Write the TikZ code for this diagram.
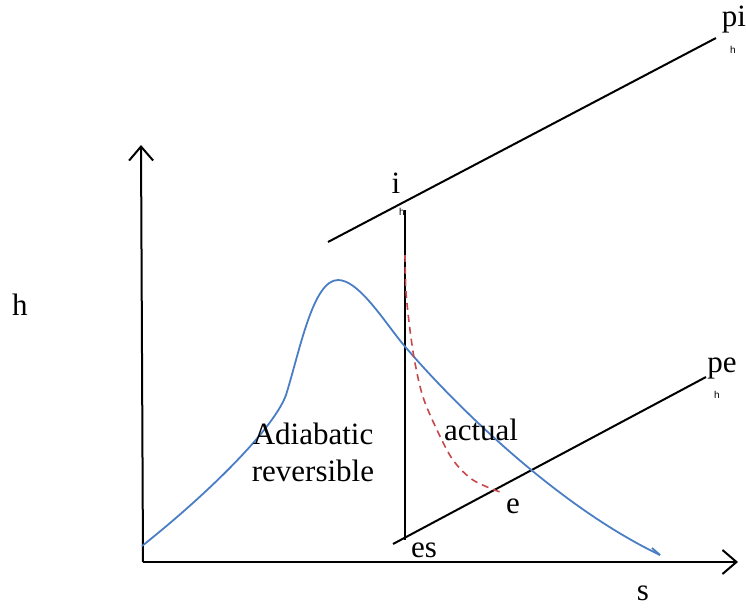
\documentclass[tikz,border=0pt]{standalone}
\usepackage{fontspec}
\setmainfont{Liberation Serif}
\newfontfamily\subfont{Liberation Sans}
\usetikzlibrary{arrows.meta,positioning,calc}

\tikzset{
  axis/.style={line width=2pt,-{Straight Barb[length=14pt,width=24pt,line width=2pt]}},
  isobar/.style={line width=2pt},
  lbl/.style={font=\fontsize{31}{37}\selectfont,inner sep=0pt},
  sublbl/.style={font=\subfont\fontsize{10}{12}\selectfont,inner sep=0pt}
}
\definecolor{curveblue}{HTML}{4A7EC4}
\definecolor{actualred}{HTML}{C8474A}

\begin{document}
\begin{tikzpicture}[x=1pt,y=-1pt]
    \useasboundingbox (0,0) rectangle (746,610);

    % axes
    \coordinate (origin) at (143,562);
    \coordinate (ytip) at (141,145);
    \coordinate (xtip) at (738,562);
    \draw[axis] (origin) -- (ytip);
    \draw[axis] (origin) -- (xtip);
    \node[lbl] (hlabel) at (20,305) {h};
    \node[lbl] (slabel) at (643,593) {s};

    % pressure lines
    \coordinate (pistart) at (328,242);
    \coordinate (piend) at (716,38);
    \draw[isobar] (pistart) -- (piend);
    \node[lbl] (pilabel) at (734,20) {pi};
    \node[sublbl] (pisub) at (733,50) {h};

    \coordinate (pestart) at (393,544);
    \coordinate (peend) at (706,377);
    \draw[isobar] (pestart) -- (peend);
    \node[lbl] (pelabel) at (722,368) {pe};
    \node[sublbl] (pesub) at (717,395) {h};

    % isentropic expansion
    \coordinate (istate) at (405,210);
    \coordinate (esstate) at (405,540);
    \draw[isobar] (istate) -- (esstate);
    \node[lbl] (ilabel) at (396,183) {i};
    \node[sublbl] (isub) at (402,212) {h};
    \node[lbl] (eslabel) at (424,550) {es};
    \node[lbl] (elabel) at (513,506) {e};

    % saturation dome
    \coordinate (domestart) at (142,546);
    \coordinate (domepeak) at (338,280);
    \coordinate (domeend) at (660,555);
    \draw[line width=1.8pt,curveblue] (domestart)
      .. controls (210,492) and (274,428) .. (286,395)
      .. controls (300,350) and (313,280) .. (domepeak)
      .. controls (358,280) and (382,318) .. (402,343)
      .. controls (450,400) and (555,505) .. (domeend);
    \draw[line width=1.8pt,curveblue] (652,548) -- (domeend);

    % actual expansion
    \draw[line width=1.6pt,actualred,dash pattern=on 7pt off 5pt]
      plot[smooth,tension=0.55] coordinates {
      (405,255) (406,292) (410,330) (415,363) (423,397) (437,430) (453,460)
      (473,480) (500,492)};

    \node[lbl] (actuallabel) at (481,430) {actual};
    \node[lbl,align=center] (adialabel) at (313,452) {Adiabatic\\reversible};
\end{tikzpicture}
\end{document}
